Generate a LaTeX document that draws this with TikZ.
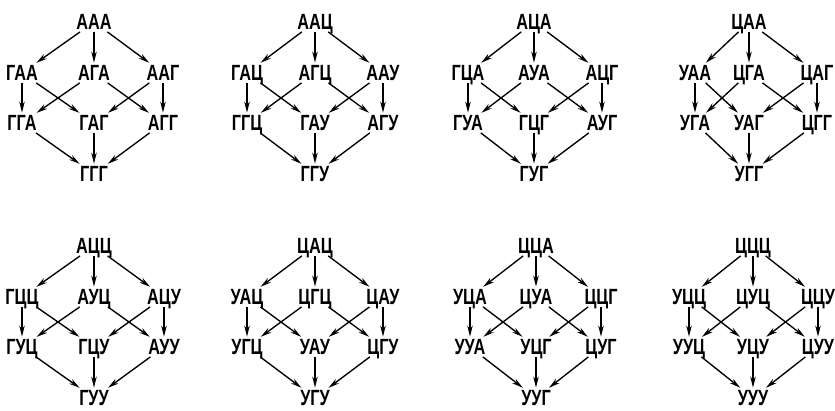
\documentclass[tikz,border=0pt]{standalone}
\usepackage{fontspec}
\newfontfamily\codonfont{Liberation Sans Bold}[FakeStretch=0.74]
\usetikzlibrary{arrows.meta}

\tikzset{
  codon/.style={font=\codonfont\fontsize{22}{22}\selectfont,
    inner xsep=1.5pt, inner ysep=2.2pt, text height=15pt, text depth=0pt},
  link/.style={-{Stealth[length=11pt,width=5.5pt,inset=3.5pt]},
    line width=1.35pt, shorten >=0.5pt}
}

\begin{document}
\begin{tikzpicture}[x=1pt,y=-1pt]
  \fill[white] (0,0) rectangle (835,411);
  \useasboundingbox (0,0) rectangle (835,411);

  % each lattice: name / left, centre, right column x / top row y /
  % top codon / upper row (L,C,R) / lower row (L,C,R) / bottom codon
  \foreach \n/\xl/\xc/\xr/\y/\t/\la/\lb/\lc/\ma/\mb/\mc/\b in {
      a/22/94/163/22/ААА/ГАА/АГА/ААГ/ГГА/ГАГ/АГГ/ГГГ,
      b/247/315/383/22/ААЦ/ГАЦ/АГЦ/ААУ/ГГЦ/ГАУ/АГУ/ГГУ,
      c/468/534/602/22/АЦА/ГЦА/АУА/АЦГ/ГУА/ГЦГ/АУГ/ГУГ,
      d/695/749/817/22/ЦАА/УАА/ЦГА/ЦАГ/УГА/УАГ/ЦГГ/УГГ,
      e/22/94/164/246/АЦЦ/ГЦЦ/АУЦ/АЦУ/ГУЦ/ГЦУ/АУУ/ГУУ,
      f/247/315/383/246/ЦАЦ/УАЦ/ЦГЦ/ЦАУ/УГЦ/УАУ/ЦГУ/УГУ,
      g/470/536/601/246/ЦЦА/УЦА/ЦУА/ЦЦГ/УУА/УЦГ/ЦУГ/УУГ,
      h/689/753/818/246/ЦЦЦ/УЦЦ/ЦУЦ/ЦЦУ/УУЦ/УЦУ/ЦУУ/УУУ}
  {
    \node[codon] (\n-t)  at (\xc,\y)        {\t};
    \node[codon] (\n-l1) at (\xl,{\y+51})   {\la};
    \node[codon] (\n-c1) at (\xc,{\y+51})   {\lb};
    \node[codon] (\n-r1) at (\xr,{\y+51})   {\lc};
    \node[codon] (\n-l2) at (\xl,{\y+101})  {\ma};
    \node[codon] (\n-c2) at (\xc,{\y+101})  {\mb};
    \node[codon] (\n-r2) at (\xr,{\y+101})  {\mc};
    \node[codon] (\n-b)  at (\xc,{\y+152})  {\b};

    \draw[link] (\n-t)  -- (\n-l1);
    \draw[link] (\n-t)  -- (\n-c1);
    \draw[link] (\n-t)  -- (\n-r1);
    \draw[link] (\n-l1) -- (\n-l2);
    \draw[link] (\n-l1) -- (\n-c2);
    \draw[link] (\n-c1) -- (\n-l2);
    \draw[link] (\n-c1) -- (\n-r2);
    \draw[link] (\n-r1) -- (\n-c2);
    \draw[link] (\n-r1) -- (\n-r2);
    \draw[link] (\n-l2) -- (\n-b);
    \draw[link] (\n-c2) -- (\n-b);
    \draw[link] (\n-r2) -- (\n-b);
  }
\end{tikzpicture}
\end{document}
